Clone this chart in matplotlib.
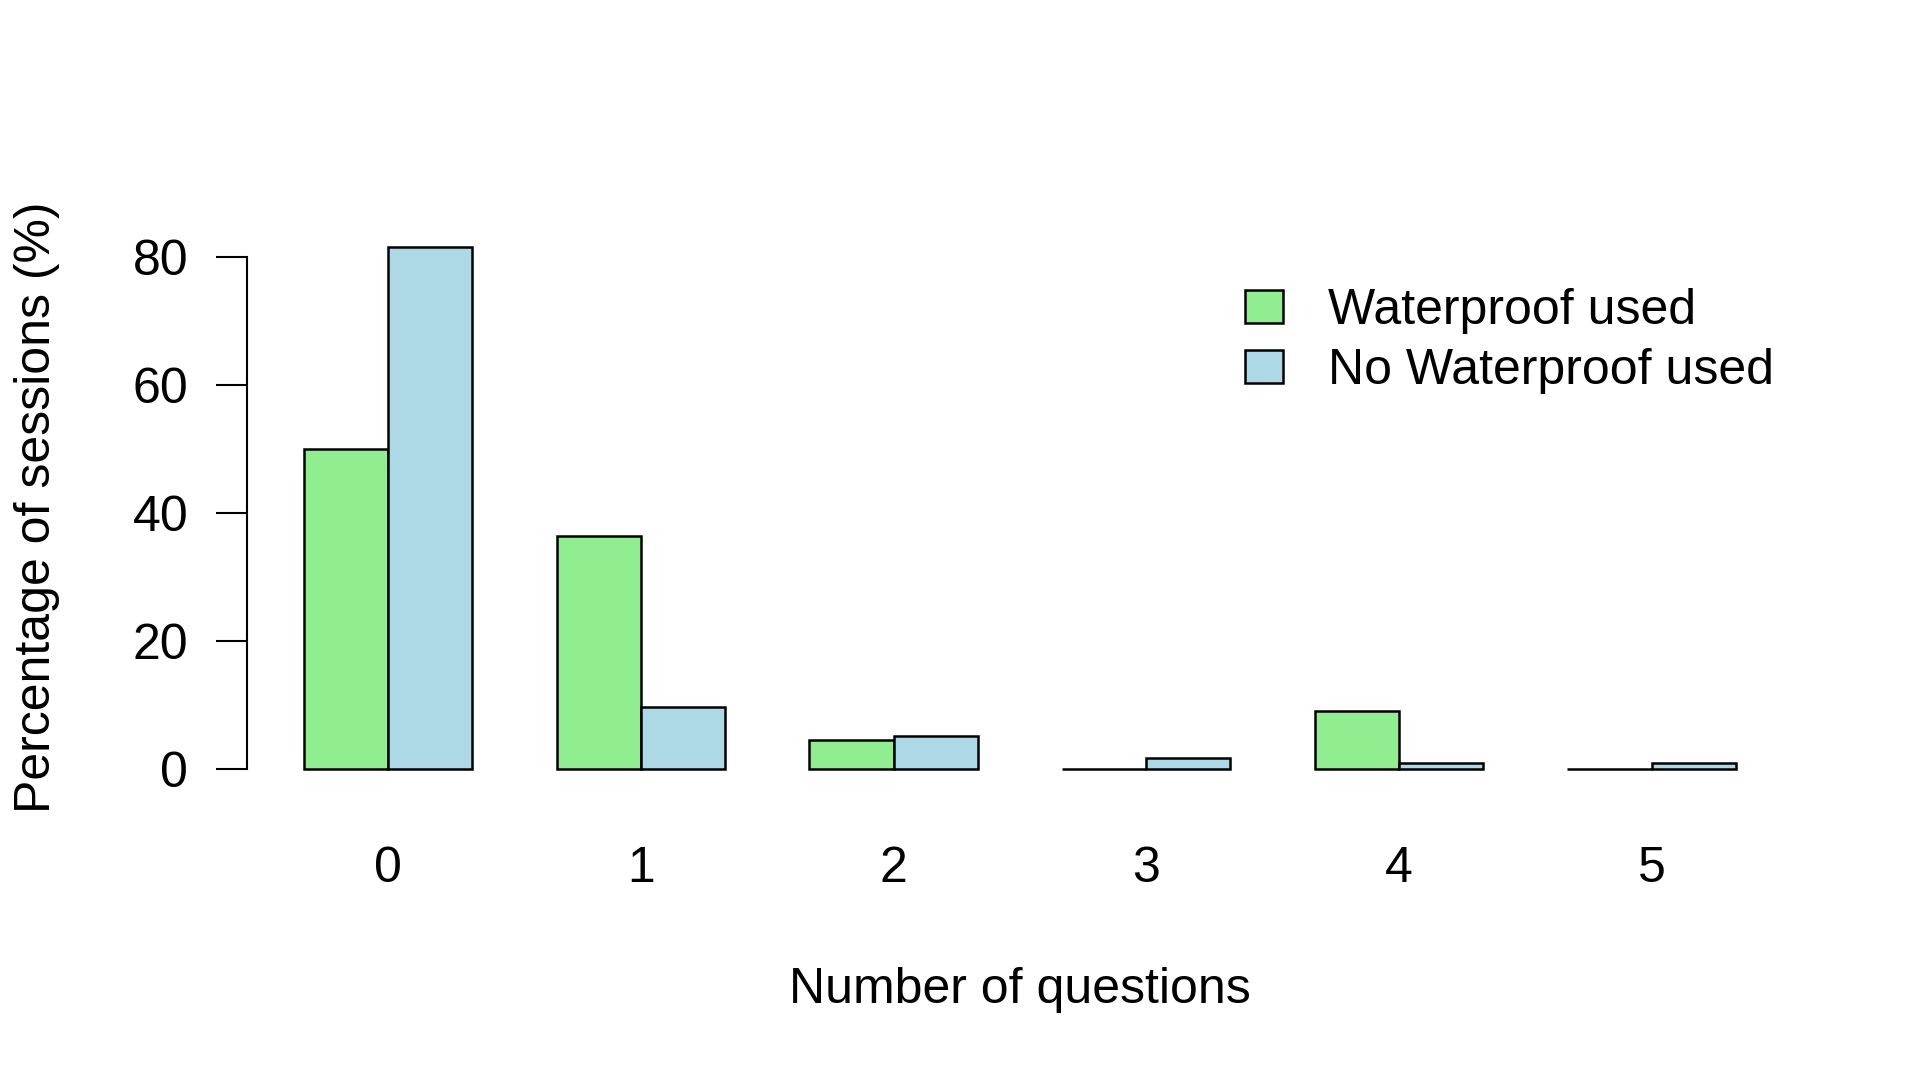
import numpy as np
import matplotlib.pyplot as plt
from matplotlib.patches import Patch

questions = ["0", "1", "2", "3", "4", "5"]
waterproof = [50.0, 36.4, 4.5, 0.0, 9.1, 0.0]
no_waterproof = [81.6, 9.7, 5.2, 1.8, 0.9, 0.9]
series_names = ["Waterproof used", "No Waterproof used"]
colors = ["#90EE90", "#ADD8E6"]

plt.rcParams['font.family'] = ['Liberation Sans', 'DejaVu Sans']

W, H = 1920, 1080
fig = plt.figure(figsize=(W / 100, H / 100), dpi=100)
# plot region in pixels (R-like layout)
left_px, right_px = 246.7, 1793
top_px, bottom_px = 224.5, 790
ax = fig.add_axes([left_px / W, 1 - bottom_px / H,
                   (right_px - left_px) / W, (bottom_px - top_px) / H])

# R barplot(beside=TRUE) positions: bar width 1, one-bar gap between groups
idx = np.arange(len(questions))
green_x = 1.5 + 3 * idx
blue_x = 2.5 + 3 * idx

ax.bar(green_x, waterproof, width=1.0, color=colors[0], edgecolor="black", linewidth=1.8)
ax.bar(blue_x, no_waterproof, width=1.0, color=colors[1], edgecolor="black", linewidth=1.8)

ax.set_xlim(0.32, 18.68)
ax.set_ylim(-3.27, 85.07)

for s in ["top", "right", "bottom"]:
    ax.spines[s].set_visible(False)
ax.spines["left"].set_bounds(0, 80)
ax.spines["left"].set_linewidth(1.5)

fs = 36
ax.set_yticks([0, 20, 40, 60, 80])
ax.tick_params(axis="y", length=22, width=1.5, pad=20, labelsize=fs)
ax.set_xticks(2 + 3 * idx)
ax.set_xticklabels(questions)
ax.tick_params(axis="x", length=0, pad=40, labelsize=fs)

ax.set_xlabel("Number of questions", fontsize=fs, va="center")
ax.xaxis.set_label_coords(0.5, -0.353)
ax.set_ylabel("Percentage of sessions (%)", fontsize=fs, va="center")
ax.yaxis.set_label_coords(-0.1356, 0.5)

handles = [Patch(facecolor=colors[0], edgecolor="black", linewidth=1.8),
           Patch(facecolor=colors[1], edgecolor="black", linewidth=1.8)]
ax.legend(handles, series_names, loc="upper left", bbox_to_anchor=(0.6455, 0.888),
          frameon=False, fontsize=fs, handlelength=0.76, handleheight=0.64,
          handletextpad=0.9, labelspacing=0.28, borderaxespad=0, borderpad=0)

fig.savefig("out.png", dpi=100)
